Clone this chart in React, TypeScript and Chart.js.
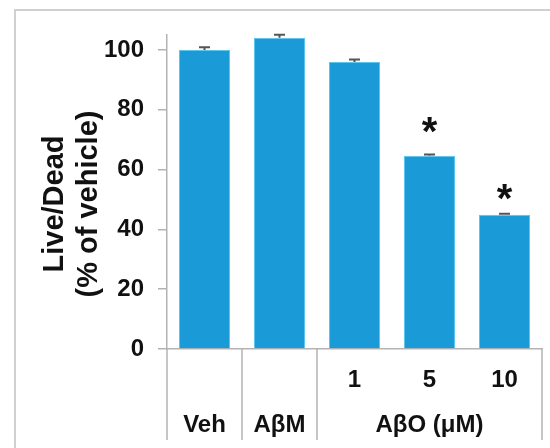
import React, { useEffect, useRef } from 'react';
import { Chart, registerables } from 'chart.js';

Chart.register(...registerables);

const categories = ['Veh', 'AβM', '1', '5', '10'];
const values = [100, 104.1, 96, 64.6, 44.9];
const errors = [0.9, 1.0, 0.8, 0.4, 0.3];
const sigMarks = ['', '', '', '*', '*'];
const sigLevels = [null, null, null, 74.5, 52];
const yTicks = [0, 20, 40, 60, 80, 100];
const yTitle = ['Live/Dead', '(% of vehicle)'];
const upperLabels = ['', '', '1', '5', '10'];
const lowerLabels = ['Veh', 'AβM', '', '', ''];
const groupLabel = 'AβO (μM)';
const groupRange = [2, 4];
const separatorsAt = [0, 1, 2, 5];

const FONT = '"Liberation Sans", Arial, sans-serif';
const GRAY = '#b3b3b3';
const TEXT = '#111111';

export default function App() {
  const ref = useRef<HTMLCanvasElement | null>(null);

  useEffect(() => {
    const canvas = ref.current;
    if (!canvas) return;

    const decor = {
      id: 'decor',
      beforeDraw(chart: any) {
        const ctx = chart.ctx;
        ctx.save();
        ctx.strokeStyle = '#d0d0d0';
        ctx.lineWidth = 2;
        ctx.beginPath();
        ctx.moveTo(15, 448);
        ctx.lineTo(15, 10);
        ctx.lineTo(550, 10);
        ctx.stroke();
        ctx.restore();
      },
      afterDraw(chart: any) {
        const ctx = chart.ctx;
        const xs = chart.scales.x;
        const ys = chart.scales.y;
        const area = chart.chartArea;
        const px = (i: number) => xs.getPixelForValue(i);
        const boundary = (k: number) => {
          if (k <= 0) return area.left;
          if (k >= categories.length) return area.right;
          return (px(k - 1) + px(k)) / 2;
        };
        ctx.save();
        // separators
        ctx.strokeStyle = GRAY;
        ctx.lineWidth = 1.5;
        separatorsAt.forEach((k) => {
          const x = boundary(k);
          ctx.beginPath();
          ctx.moveTo(x, area.bottom);
          ctx.lineTo(x, 440);
          ctx.stroke();
        });
        // error bars
        ctx.strokeStyle = '#555555';
        ctx.lineWidth = 2;
        values.forEach((v, i) => {
          const x = px(i);
          const yb = ys.getPixelForValue(v);
          const yt = ys.getPixelForValue(v + errors[i]);
          ctx.beginPath();
          ctx.moveTo(x, yb);
          ctx.lineTo(x, yt);
          ctx.moveTo(x - 5.5, yt);
          ctx.lineTo(x + 5.5, yt);
          ctx.stroke();
        });
        // asterisks
        ctx.fillStyle = TEXT;
        ctx.font = `bold 40px ${FONT}`;
        ctx.textAlign = 'center';
        ctx.textBaseline = 'alphabetic';
        sigMarks.forEach((m, i) => {
          const lv = sigLevels[i];
          if (!m || lv == null) return;
          ctx.fillText(m, px(i), ys.getPixelForValue(lv) + 19);
        });
        // x labels
        ctx.font = `bold 24px ${FONT}`;
        ctx.textBaseline = 'middle';
        upperLabels.forEach((t, i) => {
          if (t) ctx.fillText(t, px(i), 380);
        });
        lowerLabels.forEach((t, i) => {
          if (t) ctx.fillText(t, px(i), 425);
        });
        ctx.fillText(groupLabel, (px(groupRange[0]) + px(groupRange[1])) / 2, 425);
        // y title
        ctx.font = `bold 29px ${FONT}`;
        ctx.translate(0, 204);
        ctx.rotate(-Math.PI / 2);
        ctx.fillText(yTitle[0], 0, 55);
        ctx.fillText(yTitle[1], 0, 89);
        ctx.restore();
      },
    };

    const chart = new Chart(canvas, {
      type: 'bar',
      data: {
        labels: categories,
        datasets: [
          {
            data: values,
            backgroundColor: '#1a9ad6',
            borderColor: '#5ec5ee',
            borderWidth: 1,
            barPercentage: 0.68,
            categoryPercentage: 1,
          },
        ],
      },
      options: {
        responsive: false,
        animation: false,
        layout: { padding: { left: 0, top: 35, right: 8, bottom: 0 } },
        plugins: { legend: { display: false }, tooltip: { enabled: false } },
        scales: {
          x: {
            ticks: { display: false },
            grid: { display: false },
            border: { display: true, color: GRAY, width: 1.5 },
            afterFit: (s: any) => {
              s.height = 99;
            },
          },
          y: {
            min: 0,
            max: 105,
            afterBuildTicks: (s: any) => {
              s.ticks = yTicks.map((v) => ({ value: v }));
            },
            ticks: {
              color: TEXT,
              font: { family: FONT, size: 24, weight: 'bold' },
              padding: 14,
            },
            grid: {
              drawOnChartArea: false,
              drawTicks: true,
              tickLength: 9,
              color: GRAY,
              lineWidth: 1.5,
            },
            border: { display: true, color: GRAY, width: 1.5 },
            afterFit: (s: any) => {
              s.width = 167;
            },
          },
        },
      },
      plugins: [decor],
    } as any);

    return () => chart.destroy();
  }, []);

  return (
    <div style={{ position: 'fixed', left: 0, top: 0, width: 550, height: 448, background: '#fff' }}>
      <canvas ref={ref} width={550} height={448} style={{ display: 'block' }} />
    </div>
  );
}
